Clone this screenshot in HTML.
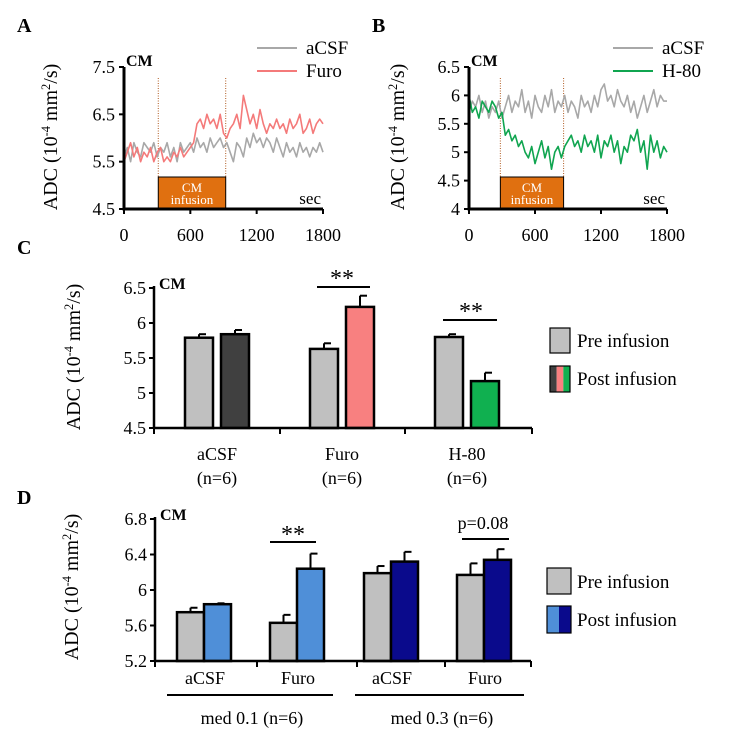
<!DOCTYPE html>
<html><head><meta charset="utf-8">
<style>
html,body{margin:0;padding:0;background:#fff;}
svg{display:block;font-family:"Liberation Serif",serif;}
</style></head>
<body>
<svg id="fig" width="738" height="746" viewBox="0 0 738 746" xmlns="http://www.w3.org/2000/svg">
<g id="root"></g>
</svg>
<script>
// ---- Panel A data (t = 0..1800 step 30 s)
const timeStepA = 30;
const aCsfA = [5.6,5.8,5.5,5.9,5.7,5.6,5.9,5.8,5.7,5.9,5.6,5.8,5.7,5.9,5.6,5.8,5.5,5.9,5.7,5.8,5.9,5.7,6.0,5.8,5.9,5.7,6.0,5.8,5.9,6.0,5.8,5.9,5.7,5.5,5.9,5.8,5.6,6.0,5.8,6.1,5.9,6.0,5.8,6.0,5.9,5.7,6.0,5.8,5.6,5.9,5.7,5.8,5.6,5.9,5.7,5.8,5.6,5.8,5.7,5.9,5.7];
const furoA = [5.5,5.7,5.9,5.6,5.8,5.5,5.7,5.6,5.8,5.5,5.7,5.8,5.5,5.6,5.5,5.7,5.6,5.8,5.6,5.7,5.8,5.9,6.3,6.4,6.2,6.5,6.3,6.4,6.2,6.5,6.1,6.0,6.2,6.3,6.5,6.2,6.9,6.6,6.3,6.5,6.2,6.6,6.3,6.1,6.3,6.2,6.4,6.2,6.3,6.1,6.4,6.2,6.3,6.5,6.1,6.2,6.4,6.1,6.3,6.4,6.3];
const yTicksA = [4.5,5.5,6.5,7.5];
const xTicks = [0,600,1200,1800];
const infusionA = [310,920];
// ---- Panel B data
const aCsfB = [5.7,5.9,5.8,6.0,5.7,5.9,5.6,5.8,5.7,5.9,5.6,5.8,6.0,5.7,5.9,5.8,6.1,5.7,5.9,5.6,6.0,5.8,5.7,6.0,5.8,6.1,5.7,5.9,5.8,6.0,5.7,5.9,5.8,5.6,6.0,5.8,5.9,5.7,6.0,5.8,6.1,6.2,5.9,6.0,5.8,6.1,5.9,5.8,6.0,5.7,5.9,5.6,5.8,6.0,5.7,5.9,6.1,5.8,6.0,5.9,5.9];
const h80B = [6.0,5.7,5.8,5.6,5.9,5.8,5.7,5.9,5.8,5.6,5.7,5.3,5.4,5.2,5.3,5.1,5.2,5.0,4.9,5.1,4.8,5.0,5.2,4.9,5.1,4.7,5.0,5.1,4.9,5.1,5.2,5.3,5.1,5.2,5.0,5.3,5.1,5.2,5.0,5.3,4.9,5.2,5.1,5.3,5.0,5.2,4.8,5.1,5.0,5.3,5.2,5.4,5.0,5.2,4.7,5.3,5.0,5.2,4.9,5.1,5.0];
const yTicksB = [4,4.5,5,5.5,6,6.5];
const infusionB = [285,860];
// ---- Panel C data
const groupsC = ["aCSF","Furo","H-80"];
const preC = [5.79,5.63,5.80];
const preErrC = [0.05,0.08,0.04];
const postC = [5.84,6.23,5.17];
const postErrC = [0.06,0.16,0.12];
const yTicksC = [4.5,5,5.5,6,6.5];
// ---- Panel D data
const groupsD = ["aCSF","Furo","aCSF","Furo"];
const preD = [5.75,5.63,6.19,6.17];
const preErrD = [0.05,0.09,0.08,0.13];
const postD = [5.84,6.24,6.32,6.34];
const postErrD = [0.01,0.17,0.11,0.12];
const yTicksD = [5.2,5.6,6,6.4,6.8];
const dosesD = ["med 0.1 (n=6)","med 0.3 (n=6)"];

const NS="http://www.w3.org/2000/svg";
const root=document.getElementById('root');
function mk(tag,at,parent){const e=document.createElementNS(NS,tag);for(const k in at)e.setAttribute(k,at[k]);(parent||root).appendChild(e);return e;}
function txt(s,x,y,size,anchor,weight,parent){const t=mk('text',{x:x,y:y,'font-size':size,'text-anchor':anchor||'start','font-weight':weight||'normal',fill:'#000'},parent);t.textContent=s;return t;}
function ytitle(cx,cy,size){
  const t=mk('text',{x:0,y:0,'font-size':size,'text-anchor':'middle',transform:`translate(${cx},${cy}) rotate(-90)`,fill:'#000'});
  
  
  t.innerHTML='ADC (10<tspan font-size="'+(size*0.62)+'" dy="-7">-4</tspan><tspan dy="7"> mm</tspan><tspan font-size="'+(size*0.62)+'" dy="-7">2</tspan><tspan dy="7">/s)</tspan>';
}

// ===== Time-series panels
function tsPanel(o){
  const g=mk('g',{});
  
  
  const sx=t=>o.x0+(t/1800)*(o.x1-o.x0);
  const sy=v=>o.y1-(v-o.ymin)/(o.ymax-o.ymin)*(o.y1-o.y0);
  const b=mk('rect',{x:sx(o.inf[0]),y:177,width:sx(o.inf[1])-sx(o.inf[0]),height:o.y1-177,fill:'#e07010',stroke:'#000','stroke-width':1},g);
  
  
  const c1=txt('CM',(sx(o.inf[0])+sx(o.inf[1]))/2,192,13,'middle','normal',g);c1.setAttribute('fill','#fff');
  const c2=txt('infusion',(sx(o.inf[0])+sx(o.inf[1]))/2,204,13,'middle','normal',g);c2.setAttribute('fill','#fff');
  o.inf.forEach(t=>{const l=mk('line',{x1:sx(t),x2:sx(t),y1:78,y2:177,stroke:'#b05a20','stroke-width':1,'stroke-dasharray':'1,1.5'},g);
    });
  o.series.forEach(s=>{
    const d=s.data.map((v,i)=>(i?'L':'M')+sx(i*timeStepA).toFixed(1)+','+sy(v).toFixed(1)).join('');
    const p=mk('path',{d:d,fill:'none',stroke:s.color,'stroke-width':1.6,'stroke-linejoin':'round'},g);
    
    
  });
  mk('line',{x1:o.x0,x2:o.x0,y1:o.y0,y2:o.y1+1.5,stroke:'#000','stroke-width':3},g);
  mk('line',{x1:o.x0-1.5,x2:o.x1,y1:o.y1,y2:o.y1,stroke:'#000','stroke-width':3},g);
  o.yt.forEach(v=>{mk('line',{x1:o.x0-5,x2:o.x0,y1:sy(v),y2:sy(v),stroke:'#000','stroke-width':2},g);
    const t=txt(String(v),o.x0-9,sy(v)+6,18,'end','normal',g);});
  xTicks.forEach(v=>{mk('line',{x1:sx(v),x2:sx(v),y1:o.y1,y2:o.y1+5,stroke:'#000','stroke-width':2},g);
    const t=txt(String(v),sx(v),o.y1+32,18,'middle','normal',g);});
  txt('sec',o.x1-2,o.y1-5,17,'end','normal',g);
  txt('CM',o.x0+2,o.y0-1,16,'start','bold',g);
  o.series.forEach((s,i)=>{
    const y=48+i*23;
    const l=mk('line',{x1:o.lx,x2:o.lx+40,y1:y,y2:y,stroke:s.color,'stroke-width':2},g);
    
    txt(s.label,o.lx+49,y+6,19,'start','normal',g);
  });
}
txt('A',17,32,20,'start','bold');
txt('B',372,32,20,'start','bold');
tsPanel({name:'panel-a',x0:124,x1:323,y0:67,y1:209,ymin:4.5,ymax:7.5,inf:infusionA,yt:yTicksA,lx:257,
  series:[{key:'acsf',label:'aCSF',color:'#a8a8a8',data:aCsfA},{key:'furo',label:'Furo',color:'#f47a7a',data:furoA}]});
tsPanel({name:'panel-b',x0:469,x1:667,y0:67,y1:209,ymin:4,ymax:6.5,inf:infusionB,yt:yTicksB,lx:613,
  series:[{key:'acsf',label:'aCSF',color:'#a8a8a8',data:aCsfB},{key:'h80',label:'H-80',color:'#10a550',data:h80B}]});
ytitle(57,137,20);
ytitle(404,137,20);

// ===== Bar panels
function barPanel(o){
  const g=mk('g',{});
  
  
  const sy=v=>o.y1-(v-o.ymin)/(o.ymax-o.ymin)*(o.y1-o.y0);
  o.bars.forEach(b=>{
    const top=sy(b.v), et=sy(b.v+b.e);
    mk('line',{x1:b.x+b.w/2,x2:b.x+b.w/2,y1:top,y2:et,stroke:'#000','stroke-width':2},g);
    mk('line',{x1:b.x+b.w/2,x2:b.x+b.w/2+7,y1:et,y2:et,stroke:'#000','stroke-width':2},g);
    const r=mk('rect',{x:b.x,y:top,width:b.w,height:o.y1-top,fill:b.color,stroke:'#000','stroke-width':2.5},g);
    
    
  });
  mk('line',{x1:o.x0,x2:o.x0,y1:o.y0-2,y2:o.y1+1,stroke:'#000','stroke-width':2.5},g);
  mk('line',{x1:o.x0,x2:o.x1,y1:o.y1,y2:o.y1,stroke:'#000','stroke-width':2.5},g);
  o.xt.forEach(x=>mk('line',{x1:x,x2:x,y1:o.y1,y2:o.y1+6,stroke:'#000','stroke-width':2},g));
  o.yt.forEach(v=>{mk('line',{x1:o.x0-5,x2:o.x0,y1:sy(v),y2:sy(v),stroke:'#000','stroke-width':2},g);
    const t=txt(String(v),o.x0-8,sy(v)+6,18,'end','normal',g);});
  txt('CM',o.x0+5,o.y0+1,16,'start','bold',g);
  return sy;
}
// Panel C
txt('C',17,254,20,'start','bold');
const postColorsC=['#404040','#f88080','#10b050'];
const barsC=[];
const gxC=[185,310,435];
groupsC.forEach((gname,i)=>{
  barsC.push({x:gxC[i],w:28,v:preC[i],e:preErrC[i],color:'#c0c0c0',name:'bar-pre-'+gname.toLowerCase()});
  barsC.push({x:gxC[i]+36,w:28,v:postC[i],e:postErrC[i],color:postColorsC[i],name:'bar-post-'+gname.toLowerCase()});
  const c=gxC[i]+32;
  const t=txt(gname,c,460,18,'middle');
  txt('(n=6)',c,484,18,'middle');
});
barPanel({name:'panel-c',x0:154,x1:532,y0:288,y1:428,ymin:4.5,ymax:6.5,yt:yTicksC,xt:[154,280,405,532],bars:barsC});
ytitle(80,357,20);
txt('**',342,286,24,'middle');mk('line',{x1:317,x2:370,y1:287,y2:287,stroke:'#000','stroke-width':2});
txt('**',471,319,24,'middle');mk('line',{x1:443,x2:497,y1:320,y2:320,stroke:'#000','stroke-width':2});
mk('rect',{x:550,y:328,width:20,height:25,fill:'#c0c0c0',stroke:'#000','stroke-width':1.2});
txt('Pre infusion',577,347,19);
postColorsC.forEach((c,i)=>mk('rect',{x:550+i*20/3,y:366,width:20/3,height:26,fill:c}));
mk('rect',{x:550,y:366,width:20,height:26,fill:'none',stroke:'#000','stroke-width':1.2});
txt('Post infusion',577,385,19);

// Panel D
txt('D',17,504,20,'start','bold');
const postColorsD=['#4f8fd8','#4f8fd8','#0a0a8c','#0a0a8c'];
const gxD=[177,270,364,457];
const barsD=[];
groupsD.forEach((gname,i)=>{
  barsD.push({x:gxD[i],w:27,v:preD[i],e:preErrD[i],color:'#c0c0c0',name:'bar-pre-'+gname.toLowerCase()+'-'+i});
  barsD.push({x:gxD[i]+27,w:27,v:postD[i],e:postErrD[i],color:postColorsD[i],name:'bar-post-'+gname.toLowerCase()+'-'+i});
  const t=txt(gname,gxD[i]+28,684,18,'middle');
});
barPanel({name:'panel-d',x0:155,x1:531,y0:519,y1:661,ymin:5.2,ymax:6.8,yt:yTicksD,xt:[155,257,357,445,531],bars:barsD});
ytitle(78,587,20);
mk('line',{x1:167,x2:333,y1:695,y2:695,stroke:'#000','stroke-width':2});
mk('line',{x1:355,x2:524,y1:695,y2:695,stroke:'#000','stroke-width':2});
txt(dosesD[0],252,724,18,'middle');
txt(dosesD[1],442,724,18,'middle');
txt('**',293,542,24,'middle');mk('line',{x1:270,x2:316,y1:542,y2:542,stroke:'#000','stroke-width':2});
txt('p=0.08',483,529,18,'middle');mk('line',{x1:462,x2:509,y1:539,y2:539,stroke:'#000','stroke-width':2});
mk('rect',{x:547,y:568,width:24,height:26,fill:'#c0c0c0',stroke:'#000','stroke-width':1.2});
txt('Pre infusion',577,588,19);
mk('rect',{x:547,y:606,width:12,height:27,fill:'#4f8fd8'});
mk('rect',{x:559,y:606,width:12,height:27,fill:'#0a0a8c'});
mk('rect',{x:547,y:606,width:24,height:27,fill:'none',stroke:'#000','stroke-width':1.2});
txt('Post infusion',577,626,19);
</script>
</body></html>
